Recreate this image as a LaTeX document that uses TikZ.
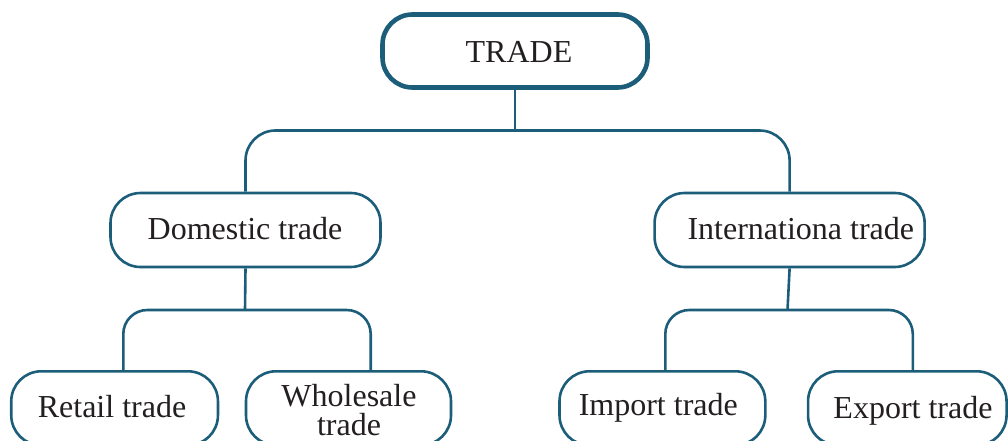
\documentclass[tikz,border=0pt]{standalone}
\usepackage{fontspec}
\setmainfont{Liberation Serif}
\definecolor{teal1}{RGB}{28,94,122}
\definecolor{ink}{RGB}{35,31,32}
\begin{document}
\begin{tikzpicture}[x=1pt,y=-1pt,
  box/.style={draw=teal1,line width=2.6pt,rounded corners=30pt,shape=rectangle,inner sep=0pt,fill=white},
  rootbox/.style={box,line width=4.6pt},
  lbl/.style={anchor=base,inner sep=0pt,text=ink,font=\fontsize{32}{29}\selectfont},
  conn/.style={draw=teal1,line width=2.6pt}]
\useasboundingbox (0,0) rectangle (1008,441);
\begin{scope}
\clip (0,0) rectangle (1008,441);
% boxes
\node[rootbox,minimum width=265pt,minimum height=73pt] (trade) at (515,51) {};
\node[box,minimum width=270pt,minimum height=74pt] (dom) at (245.5,230) {};
\node[box,minimum width=270pt,minimum height=74pt] (intl) at (789.6,230) {};
\node[box,minimum width=206.7pt,minimum height=74pt] (ret) at (114.6,408.3) {};
\node[box,minimum width=205pt,minimum height=74pt] (whole) at (348.5,408.3) {};
\node[box,minimum width=205.8pt,minimum height=74pt] (imp) at (662.4,408.3) {};
\node[box,minimum width=198.5pt,minimum height=74pt] (exp) at (907.3,408.3) {};
% texts
\node[lbl] (tradet) at (519,62.7) {TRADE};
\node[lbl] (domt) at (245,239) {Domestic trade};
\node[lbl] (intlt) at (800.8,239) {Internationa trade};
\node[lbl] (rett) at (112,417) {Retail trade};
\node[lbl] (wholet1) at (349,406) {Wholesale};
\node[lbl] (wholet2) at (349,435) {trade};
\node[lbl] (impt) at (658.3,415) {Import trade};
\node[lbl] (expt) at (913,418) {Export trade};
% junctions
\coordinate (j1) at (515,130.5);
\coordinate (j2) at (245,310);
\coordinate (j3) at (787.5,310);
\coordinate (rb) at (123.3,0);
\coordinate (wb) at (370.7,0);
\coordinate (ib) at (665.3,0);
\coordinate (eb) at (912.8,0);
% connectors
\draw[conn] (trade.south) -- (j1);
\draw[conn,rounded corners=30pt] (dom.north) |- (j1) -| (intl.north);
\draw[conn] (dom.south) -- (j2);
\draw[conn,rounded corners=24pt] (ret.north -| rb) |- (j2) -| (whole.north -| wb);
\draw[conn] (intl.south) -- (j3);
\draw[conn,rounded corners=24pt] (imp.north -| ib) |- (j3) -| (exp.north -| eb);
\end{scope}
\end{tikzpicture}
\end{document}
